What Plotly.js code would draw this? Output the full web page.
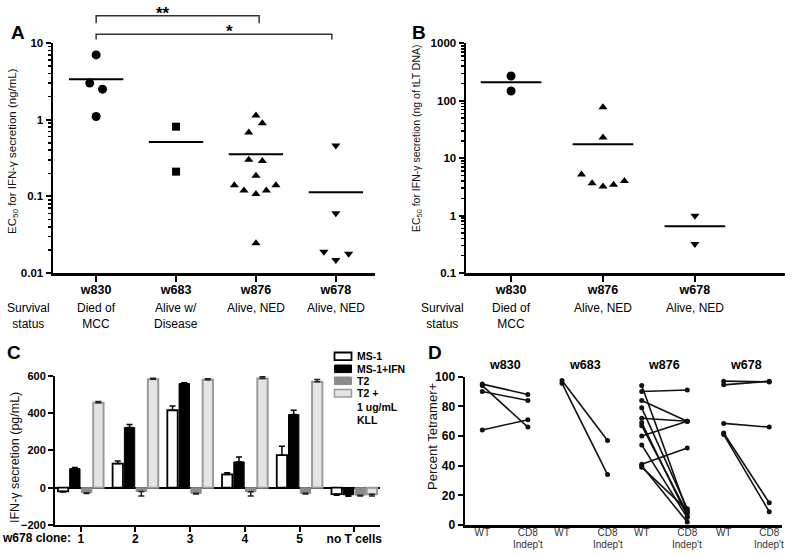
<!DOCTYPE html>
<html><head><meta charset="utf-8">
<script src="https://cdn.plot.ly/plotly-3.0.1.min.js"></script>
<style>html,body{margin:0;padding:0;background:#fff}#chart{width:800px;height:556px}</style>
</head><body><div id="chart"></div>
<script>
const FONT = 'Liberation Sans, Arial, Helvetica, sans-serif';

// ---------- Panel A data ----------
const patientsA = ['w830','w683','w876','w678'];
const statusA = ['Died of<br>MCC','Alive w/<br>Disease','Alive, NED','Alive, NED'];
const ec50A_w830 = [7.0, 3.0, 2.5, 1.1];
const ec50A_w683 = [0.81, 0.21];
const ec50A_w876 = [1.13, 0.90, 0.68, 0.30, 0.29, 0.185, 0.14, 0.119, 0.107, 0.119, 0.14, 0.0244];
const ec50A_w678 = [0.46, 0.060, 0.019, 0.0148, 0.0178];
const meanA = [3.36, 0.51, 0.353, 0.113];
const jitterA_w830 = [0, -0.08, 0.08, 0];
const jitterA_w683 = [0, 0];
const jitterA_w876 = [0, 0.08, -0.09, -0.09, 0.08, 0, -0.27, -0.15, 0, 0.13, 0.25, 0];
const jitterA_w678 = [0, 0, -0.15, 0, 0.16];

// ---------- Panel B data ----------
const patientsB = ['w830','w876','w678'];
const statusB = ['Died of<br>MCC','Alive, NED','Alive, NED'];
const ec50B_w830 = [270, 148];
const ec50B_w876 = [77, 22.9, 5.2, 3.67, 3.2, 3.45, 4.0];
const ec50B_w678 = [0.99, 0.32];
const meanB = [210, 17.5, 0.65];
const jitterB_w830 = [0, 0];
const jitterB_w876 = [0, 0, -0.234, -0.118, 0, 0.115, 0.233];
const jitterB_w678 = [0, 0];

// ---------- Panel C data ----------
const clones = ['1','2','3','4','5','no T cells'];
const ms1 = [-20, 129, 415, 71, 174, -35];
const ms1Err = [3, 14, 23, 9, 48, 5];
const ms1ifn = [102, 322, 558, 138, 392, -38];
const ms1ifnErr = [6, 16, 4, 27, 23, 8];
const t2 = [-27, -20, -30, -22, -30, -40];
const t2Err = [4, 25, 4, 22, 4, 4];
const t2kll = [455, 581, 578, 585, 567, -35];
const t2kllErr = [7, 5, 5, 9, 12, 10];

// ---------- Panel D data ----------
const groupsD = ['w830','w683','w876','w678'];
const conditionsD = ['WT', 'CD8'];
const wt_w830 = [95, 94, 90, 64];
const cd8_w830 = [88, 66, 84, 71];
const wt_w683 = [97.5, 95.5];
const cd8_w683 = [57, 34];
const wt_w876 = [94, 90, 84, 79, 72, 69, 67, 60, 54, 41, 40, 39];
const cd8_w876 = [9, 91, 70, 11, 70, 6, 8, 70, 5, 52, 2, 10];
const wt_w678 = [97, 94.5, 68.5, 62, 61];
const cd8_w678 = [96.5, 97, 66, 15, 9];

// ---------- helpers ----------
const px = x => x / 800;
const py = y => 1 - y / 556;
const traces = [];

function dotGroup(xa, ya, idx, vals, jit, symbol, size) {
  traces.push({
    type: 'scatter', mode: 'markers', xaxis: xa, yaxis: ya, showlegend: false,
    x: vals.map((v, i) => idx + jit[i]), y: vals,
    marker: { symbol: symbol, size: size, color: '#000' }
  });
}
function meanLine(xa, ya, means, half) {
  means.forEach((m, i) => traces.push({
    type: 'scatter', mode: 'lines', xaxis: xa, yaxis: ya, showlegend: false,
    x: [i - half, i + half], y: [m, m], line: { color: '#000', width: 2 }
  }));
}

// Panel A
dotGroup('x', 'y', 0, ec50A_w830, jitterA_w830, 'circle', 9);
dotGroup('x', 'y', 1, ec50A_w683, jitterA_w683, 'square', 8);
dotGroup('x', 'y', 2, ec50A_w876, jitterA_w876, 'triangle-up', 8);
dotGroup('x', 'y', 3, ec50A_w678, jitterA_w678, 'triangle-down', 8);
meanLine('x', 'y', meanA, 0.34);

// Panel B
dotGroup('x2', 'y2', 0, ec50B_w830, jitterB_w830, 'circle', 9);
dotGroup('x2', 'y2', 1, ec50B_w876, jitterB_w876, 'triangle-up', 8);
dotGroup('x2', 'y2', 2, ec50B_w678, jitterB_w678, 'triangle-down', 8);
meanLine('x2', 'y2', meanB, 0.33);

// Panel C
function barTrace(name, vals, errs, fill, lineCol, lineW, errCol) {
  traces.push({
    type: 'bar', name: name, xaxis: 'x3', yaxis: 'y3', showlegend: false,
    x: clones.map((c, i) => i), y: vals,
    marker: { color: fill, line: { color: lineCol, width: lineW } },
    error_y: {
      type: 'data', symmetric: false,
      array: vals.map((v, i) => v >= 0 ? errs[i] : 0),
      arrayminus: vals.map((v, i) => v < 0 ? errs[i] : 0),
      color: errCol, thickness: 1.5, width: 3
    }
  });
}
barTrace('MS-1', ms1, ms1Err, '#ffffff', '#000000', 1.8, '#000');
barTrace('MS-1+IFN', ms1ifn, ms1ifnErr, '#000000', '#000000', 1, '#000');
barTrace('T2', t2, t2Err, '#8c8c8c', '#8c8c8c', 1, '#222');
barTrace('T2 + 1 ug/mL KLL', t2kll, t2kllErr, '#e4e4e4', '#9a9a9a', 2, '#222');

// Panel D
const wtPos = [0, 1.75, 3.5, 5.3];
const pairsD = [[wt_w830, cd8_w830], [wt_w683, cd8_w683], [wt_w876, cd8_w876], [wt_w678, cd8_w678]];
pairsD.forEach((p, g) => {
  const xs = [], ys = [];
  p[0].forEach((w, i) => { xs.push(wtPos[g], wtPos[g] + 1, null); ys.push(w, p[1][i], null); });
  traces.push({
    type: 'scatter', mode: 'lines+markers', xaxis: 'x4', yaxis: 'y4', showlegend: false,
    x: xs, y: ys, line: { color: '#111', width: 1.6 }, marker: { color: '#111', size: 5 }
  });
});

// ---------- layout ----------
const tickBold = { family: FONT, size: 11.5, color: '#000', weight: 'bold' };
const baseAxis = {
  showline: true, linecolor: '#000', linewidth: 2.5, showgrid: false, zeroline: false,
  ticks: 'outside', ticklen: 5, tickwidth: 2, tickcolor: '#000', tickfont: tickBold, fixedrange: true
};

const annotations = [];
function ann(text, x, y, opts) {
  annotations.push(Object.assign({
    text: text, x: x, y: y, xref: 'paper', yref: 'paper', showarrow: false,
    xanchor: 'center', yanchor: 'middle', font: { family: FONT, size: 12, color: '#000' }
  }, opts || {}));
}
const bigBold = { family: FONT, size: 19, color: '#000', weight: 'bold' };

// panel letters
ann('A', px(18), py(33), { font: bigBold });
ann('B', px(419), py(33), { font: bigBold });
ann('C', px(14), py(352), { font: bigBold });
ann('D', px(435), py(352), { font: bigBold });

// y titles
ann('EC<sub>50</sub> for IFN-γ secretion (ng/mL)', px(13), py(151), { textangle: -90, font: { family: FONT, size: 11.5, color: '#111' } });
ann('EC<sub>50</sub> for IFN-γ secretion (ng of tLT DNA)', px(417), py(138), { textangle: -90, font: { family: FONT, size: 10.5, color: '#111' } });
ann('IFN-γ secretion (pg/mL)', px(15), py(458), { textangle: -90, font: { family: FONT, size: 12.5, color: '#111' } });
ann('Percent Tetramer+', px(432), py(437), { textangle: -90, font: { family: FONT, size: 13, color: '#111' } });

// survival status rows
ann('Survival<br>status', px(29), py(299), { yanchor: 'top' });
statusA.forEach((s, i) => ann(s, i, py(299), { xref: 'x', yanchor: 'top' }));
ann('Survival<br>status', px(442), py(299), { yanchor: 'top' });
statusB.forEach((s, i) => ann(s, i, py(299), { xref: 'x2', yanchor: 'top' }));

// significance
ann('**', px(163), py(14), { font: { family: FONT, size: 17, color: '#000', weight: 'bold' } });
ann('*', px(229), py(32), { font: { family: FONT, size: 17, color: '#000', weight: 'bold' } });

// panel C label
ann('w678 clone:', px(73), py(537.5), { xanchor: 'right', font: { family: FONT, size: 12, color: '#000', weight: 'bold' } });

// panel C legend
const legItems = [['MS-1', '#fff', '#000', 1.8, 356.3], ['MS-1+IFN', '#000', '#000', 1, 368.8], ['T2', '#8c8c8c', '#8c8c8c', 1, 380.8], ['T2 +', '#e4e4e4', '#9a9a9a', 1.5, 393.3]];
const shapes = [];
legItems.forEach(it => {
  shapes.push({ type: 'rect', xref: 'paper', yref: 'paper', x0: px(334.5), x1: px(351.5), y0: py(it[4] + 3.8), y1: py(it[4] - 3.8), fillcolor: it[1], line: { color: it[2], width: it[3] } });
  ann(it[0], px(354.5), py(it[4]), { xanchor: 'left', font: { family: FONT, size: 10.5, color: '#000', weight: 'bold' } });
});
ann('1 ug/mL', px(354.5), py(406.7), { xanchor: 'left', font: { family: FONT, size: 10.5, color: '#000', weight: 'bold' } });
ann('KLL', px(354.5), py(420), { xanchor: 'left', font: { family: FONT, size: 10.5, color: '#000', weight: 'bold' } });

// panel D group titles and second line of the CD8 tick labels
groupsD.forEach((g, i) => {
  ann(g, wtPos[i] + 0.5, py(365), { xref: 'x4', font: { family: FONT, size: 12.5, color: '#000', weight: 'bold' } });
  ann("Indep't", wtPos[i] + 1, py(544), { xref: 'x4', font: { family: FONT, size: 10, color: '#333' } });
});

// brackets (panel A)
shapes.push({ type: 'path', xref: 'x', yref: 'paper', path: `M 0,${py(23.3)} L 0,${py(15.7)} L 2.04,${py(15.7)} L 2.04,${py(23.3)}`, line: { color: '#333', width: 1.5 } });
shapes.push({ type: 'path', xref: 'x', yref: 'paper', path: `M 0,${py(39.5)} L 0,${py(34.3)} L 2.95,${py(34.3)} L 2.95,${py(39.5)}`, line: { color: '#333', width: 1.5 } });

const dTickVals = [], dTickText = [];
wtPos.forEach(p => { dTickVals.push(p, p + 1); dTickText.push(conditionsD[0], conditionsD[1]); });

const layout = {
  width: 800, height: 556, margin: { l: 0, r: 0, t: 0, b: 0 },
  paper_bgcolor: '#fff', plot_bgcolor: '#fff', showlegend: false,
  font: { family: FONT, color: '#000' },
  barmode: 'group', bargap: 0.14, bargroupgap: 0.12,
  xaxis: Object.assign({}, baseAxis, {
    domain: [px(53), px(375)], anchor: 'y', range: [-0.54, 3.49],
    tickmode: 'array', tickvals: [0, 1, 2, 3], ticktext: patientsA, ticklen: 6, ticklabelstandoff: -3,
    tickfont: { family: FONT, size: 12.5, color: '#000', weight: 'bold' }
  }),
  yaxis: Object.assign({}, baseAxis, {
    domain: [py(273), py(43)], anchor: 'x', type: 'log', range: [-2, 1],
    tickmode: 'array', tickvals: [0.01, 0.1, 1, 10], ticktext: ['0.01', '0.1', '1', '10'],
    minor: { tickmode: 'array', tickvals: [0.02,0.03,0.04,0.05,0.06,0.07,0.08,0.09,0.2,0.3,0.4,0.5,0.6,0.7,0.8,0.9,2,3,4,5,6,7,8,9], ticks: 'outside', ticklen: 3, tickwidth: 1.5, tickcolor: '#000', showgrid: false }
  }),
  xaxis2: Object.assign({}, baseAxis, {
    domain: [px(466), px(785)], anchor: 'y2', range: [-0.49, 2.98],
    tickmode: 'array', tickvals: [0, 1, 2], ticktext: patientsB, ticklen: 6, ticklabelstandoff: -3,
    tickfont: { family: FONT, size: 12.5, color: '#000', weight: 'bold' }
  }),
  yaxis2: Object.assign({}, baseAxis, {
    domain: [py(273), py(43.3)], anchor: 'x2', type: 'log', range: [-1, 3],
    tickmode: 'array', tickvals: [0.1, 1, 10, 100, 1000], ticktext: ['0.1', '1', '10', '100', '1000'],
    minor: { tickmode: 'array', tickvals: [0.2,0.3,0.4,0.5,0.6,0.7,0.8,0.9,2,3,4,5,6,7,8,9,20,30,40,50,60,70,80,90,200,300,400,500,600,700,800,900], ticks: 'outside', ticklen: 3, tickwidth: 1.5, tickcolor: '#000', showgrid: false }
  }),
  xaxis3: Object.assign({}, baseAxis, {
    domain: [px(55), px(380)], anchor: 'y3', range: [-0.47, 5.47], linewidth: 2, ticklabelstandoff: -3,
    tickmode: 'array', tickvals: clones.map((c, i) => i), ticktext: clones,
    tickfont: { family: FONT, size: 12, color: '#000', weight: 'bold' }
  }),
  yaxis3: Object.assign({}, baseAxis, {
    domain: [py(525), py(375.7)], anchor: 'x3', range: [-200, 600], dtick: 200, linewidth: 2,
    zeroline: true, zerolinecolor: '#000', zerolinewidth: 2,
    tickfont: { family: FONT, size: 11, color: '#000', weight: 'bold' }
  }),
  xaxis4: Object.assign({}, baseAxis, {
    domain: [px(465), px(782)], anchor: 'y4', range: [-0.38, 6.58], linewidth: 2.5, ticks: '', ticklabelstandoff: -4,
    tickmode: 'array', tickvals: dTickVals, ticktext: dTickText,
    tickfont: { family: FONT, size: 10, color: '#333' }
  }),
  yaxis4: Object.assign({}, baseAxis, {
    domain: [py(525), py(376.7)], anchor: 'x4', range: [0, 100], dtick: 20, linewidth: 2.5,
    tickfont: { family: FONT, size: 12, color: '#000', weight: 'bold' }
  }),
  annotations: annotations,
  shapes: shapes
};

Plotly.newPlot('chart', traces, layout, { staticPlot: true, displayModeBar: false });
</script>
</body></html>
